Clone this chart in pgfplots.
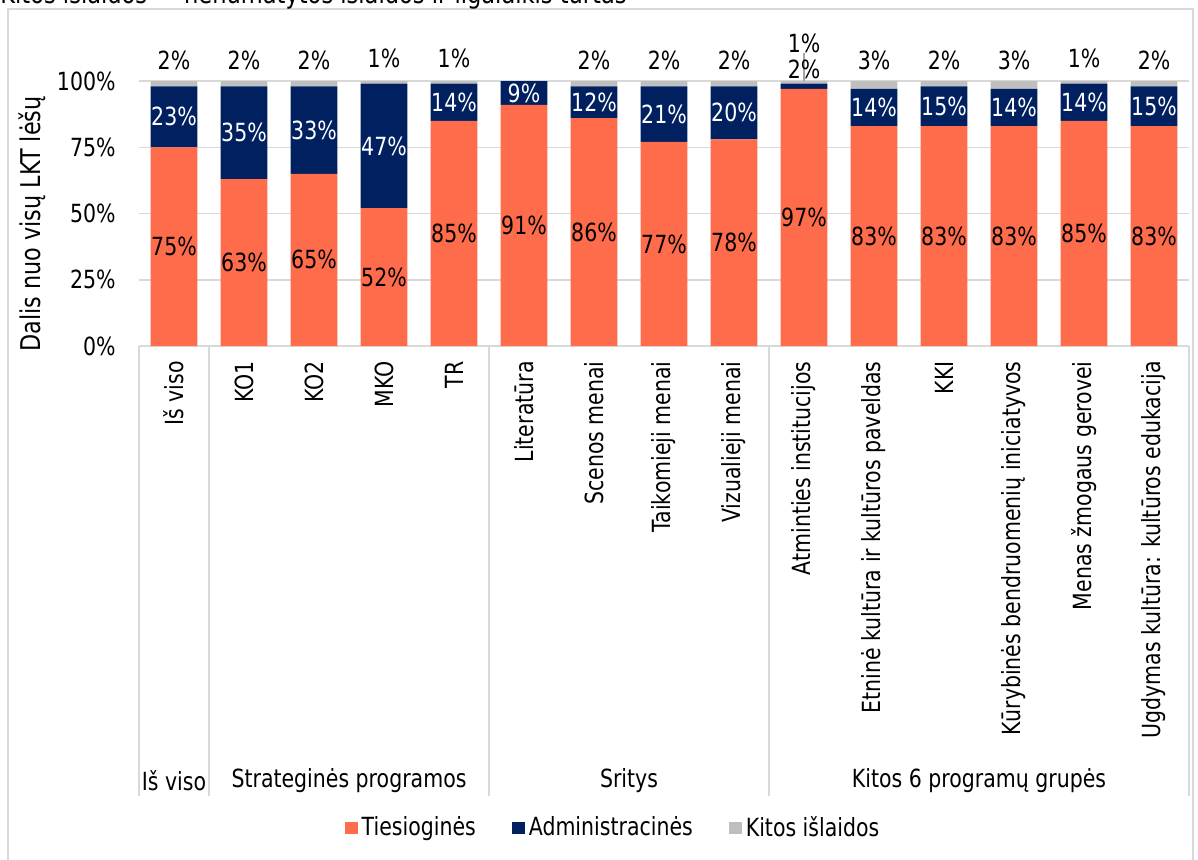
\documentclass[border=0pt]{standalone}
\usepackage{pgfplots}
\pgfplotsset{compat=1.18}
\usepackage{pgfplotstable}
\usepackage{fontspec}
\setmainfont{DejaVu Sans}[FakeStretch=0.82]
\definecolor{orangec}{HTML}{FF6C4C}
\definecolor{navyc}{HTML}{002060}
\definecolor{grayc}{HTML}{BFBFBF}
\definecolor{linec}{HTML}{D9D9D9}

\pgfplotstableread{
x T A K
0 75 23 2
1 63 35 2
2 65 33 2
3 52 47 1
4 85 14 1
5 91 9 0
6 86 12 2
7 77 21 2
8 78 20 2
9 97 2 1
10 83 14 3
11 83 15 2
12 83 14 3
13 85 14 1
14 83 15 2
}\bars

\pgfplotsset{
  base/.style={
    at={(69.5pt,-173pt)}, anchor=south west,
    scale only axis, width=525pt, height=132.5pt,
    xmin=-0.5, xmax=14.5, ymin=0, ymax=100,
    clip=false,
  },
  lab/.style={only marks, mark=*, mark size=0pt, mark options={draw=none,fill=none},
    nodes near coords={\pgfmathprintnumber{\pgfplotspointmeta}\%},
    point meta=explicit,
    every node near coord/.append style={anchor=center, inner sep=0pt, text=#1}},
  /pgf/number format/assume math mode=true,
}

\begin{document}
\fontsize{12.5pt}{15pt}\selectfont
\begin{tikzpicture}[font=\fontsize{12.5pt}{15pt}\selectfont]
\useasboundingbox (0,0) rectangle (599pt,-430pt);
\draw[linec, line width=0.6pt] (4pt,-4.5pt) rectangle (596.5pt,-445pt);
\node[anchor=base west, inner sep=0pt, font=\fontsize{13.75pt}{16pt}\selectfont] at (0pt,-2pt) {Kitos išlaidos — nenumatytos išlaidos ir ilgalaikis turtas};
\begin{axis}[base,
  ybar stacked, bar width=0.67,
  axis line style={draw=none},
  major tick length=0pt,
  ytick={0,25,50,75,100},
  yticklabels={0\%,25\%,50\%,75\%,100\%},
  yticklabel style={anchor=east, inner sep=0pt},
  yticklabel shift=11.5pt,
  ymajorgrids, grid style={linec, line width=0.75pt},
  xtick={0,...,14},
  xticklabels={Iš viso,KO1,KO2,MKO,TR,Literatūra,Scenos menai,Taikomieji menai,Vizualieji menai,Atminties institucijos,Etninė kultūra ir kultūros paveldas,KKI,Kūrybinės bendruomenių iniciatyvos,Menas žmogaus gerovei,Ugdymas kultūra: kultūros edukacija},
  xticklabel style={rotate=90, anchor=east, inner sep=0pt},
  xticklabel shift=7.5pt,
  legend columns=3,
  legend style={at={(0.4524,-1.819)}, anchor=center, draw=none, fill=none,
    /tikz/every even column/.append style={column sep=16pt}},
  legend image code/.code={\fill[#1] (0pt,-3.2pt) rectangle (6.5pt,3.2pt);},
]
\addplot[fill=orangec, draw=none] table[x=x,y=T]{\bars};
\addplot[fill=navyc, draw=none] table[x=x,y=A]{\bars};
\addplot[fill=grayc, draw=none] table[x=x,y=K]{\bars};
\legend{Tiesioginės,Administracinės,Kitos išlaidos}
\draw[linec, line width=0.75pt] (axis cs:-0.5,0) -- ++(0pt,-225pt);
\draw[linec, line width=0.75pt] (axis cs:0.5,0) -- ++(0pt,-225pt);
\draw[linec, line width=0.75pt] (axis cs:4.5,0) -- ++(0pt,-225pt);
\draw[linec, line width=0.75pt] (axis cs:8.5,0) -- ++(0pt,-225pt);
\draw[linec, line width=0.75pt] (axis cs:14.5,0) -- ++(0pt,-225pt);
\path (axis cs:0,0) ++(0pt,-217.5pt) node {Iš viso};
\path (axis cs:2.5,0) ++(0pt,-217.5pt) node {Strateginės programos};
\path (axis cs:6.5,0) ++(0pt,-217.5pt) node {Sritys};
\path (axis cs:11.5,0) ++(0pt,-217.5pt) node {Kitos 6 programų grupės};
\path (axis cs:-0.5,50) ++(-53.5pt,-5.25pt) node[rotate=90, font=\fontsize{13.6pt}{16pt}\selectfont] {Dalis nuo visų LKT lėšų};
\end{axis}
\begin{axis}[base, hide axis]
\addplot[gray!70, line width=0.6pt, mark=none] coordinates {(9,100) (9,110.6)};
\addplot[lab=black] coordinates {
 (0,37.5) [75] (1,31.5) [63] (2,32.5) [65] (3,26) [52] (4,42.5) [85]
 (5,45.5) [91] (6,43) [86] (7,38.5) [77] (8,39) [78] (9,48.5) [97]
 (10,41.5) [83] (11,41.5) [83] (12,41.5) [83] (13,42.5) [85] (14,41.5) [83]
};
\addplot[lab=white] coordinates {
 (0,86.5) [23] (1,80.5) [35] (2,81.5) [33] (3,75.5) [47] (4,92) [14]
 (5,95.5) [9] (6,92) [12] (7,87.5) [21] (8,88) [20]
 (10,90) [14] (11,90.5) [15] (12,90) [14] (13,92) [14] (14,90.5) [15]
};
\addplot[lab=black] coordinates {
 (0,107.7) [2] (1,107.7) [2] (2,107.7) [2] (3,108.5) [1] (4,108.5) [1]
 (6,107.7) [2] (7,107.7) [2] (8,107.7) [2] (9,114.2) [1] (9,104.2) [2]
 (10,107.7) [3] (11,107.7) [2] (12,107.7) [3] (13,108.5) [1] (14,107.7) [2]
};
\end{axis}
\end{tikzpicture}
\end{document}
